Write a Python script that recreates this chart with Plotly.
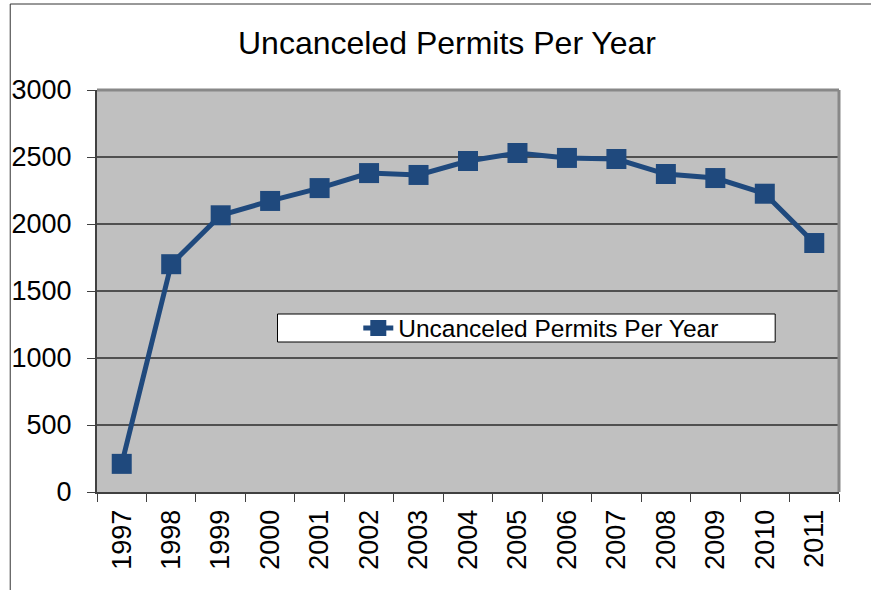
import plotly.graph_objects as go

years = ["1997", "1998", "1999", "2000", "2001", "2002", "2003", "2004",
         "2005", "2006", "2007", "2008", "2009", "2010", "2011"]
permits = [210, 1700, 2065, 2172, 2268, 2380, 2366, 2470,
           2530, 2493, 2485, 2373, 2343, 2226, 1858]
y_ticks = [0, 500, 1000, 1500, 2000, 2500, 3000]
series_name = "Uncanceled Permits Per Year"
title_text = "Uncanceled Permits Per Year"

W, H = 871, 590
L, R, T, B = 95, 32, 90, 98
pw, ph = W - L - R, H - T - B

def px(x):
    return (x - L) / pw

def py(y):
    return (H - B - y) / ph

FONT = "Liberation Sans, Arial, sans-serif"
BLUE = "#1F497D"

fig = go.Figure()
fig.add_trace(go.Scatter(
    x=years, y=permits, mode="lines+markers", name=series_name,
    line=dict(color=BLUE, width=5),
    marker=dict(symbol="square", size=20, color=BLUE),
))

fig.update_layout(
    width=W, height=H,
    margin=dict(l=L, r=R, t=T, b=B),
    paper_bgcolor="white",
    plot_bgcolor="#C0C0C0",
    font=dict(family=FONT, color="black"),
    showlegend=True,
    legend=dict(
        orientation="h", x=px(357), y=py(328), xanchor="left", yanchor="middle",
        bgcolor="rgba(0,0,0,0)", borderwidth=0,
        font=dict(size=24.5, family=FONT, color="black"),
    ),
    xaxis=dict(
        type="category", range=[-0.5, len(years) - 0.5],
        tickson="boundaries", ticks="outside", ticklen=8, tickwidth=1,
        tickcolor="#404040", tickangle=-90,
        tickfont=dict(size=27, family=FONT, color="black"),
        showgrid=False, showline=True, linecolor="#404040", linewidth=2,
        zeroline=False, fixedrange=True, ticklabelstandoff=5,
    ),
    yaxis=dict(
        range=[0, 3000], tickvals=y_ticks, ticks="outside", ticklen=8,
        tickwidth=1, tickcolor="#404040",
        tickfont=dict(size=27, family=FONT, color="black"),
        showgrid=True, gridcolor="#505050", gridwidth=2,
        showline=True, linecolor="#404040", linewidth=2,
        zeroline=False, fixedrange=True, ticklabelstandoff=10,
    ),
    annotations=[dict(
        text=title_text, xref="paper", yref="paper",
        x=px(446), y=py(43), xanchor="center", yanchor="middle",
        showarrow=False, font=dict(size=32, family=FONT, color="black"),
    )],
    shapes=[
        # top/right plot border
        dict(type="line", xref="paper", yref="paper", x0=0, x1=1, y0=1, y1=1,
             line=dict(color="#888888", width=3), layer="above"),
        dict(type="line", xref="paper", yref="paper", x0=1, x1=1, y0=0, y1=1,
             line=dict(color="#888888", width=3), layer="above"),
        # legend box
        dict(type="rect", xref="paper", yref="paper",
             x0=px(276), x1=px(775), y0=py(342), y1=py(314),
             fillcolor="white", line=dict(color="black", width=1), layer="above"),
        # outer frame
        dict(type="line", xref="paper", yref="paper",
             x0=px(8), x1=px(8), y0=py(4), y1=py(H + 5),
             line=dict(color="#333333", width=1)),
        dict(type="line", xref="paper", yref="paper",
             x0=px(8), x1=px(W + 5), y0=py(4), y1=py(4),
             line=dict(color="#333333", width=1)),
    ],
)

fig.write_html(
    "out.html",
    config={"displayModeBar": False},
    post_script="document.body.style.margin='0';document.body.style.overflow='hidden';",
)
